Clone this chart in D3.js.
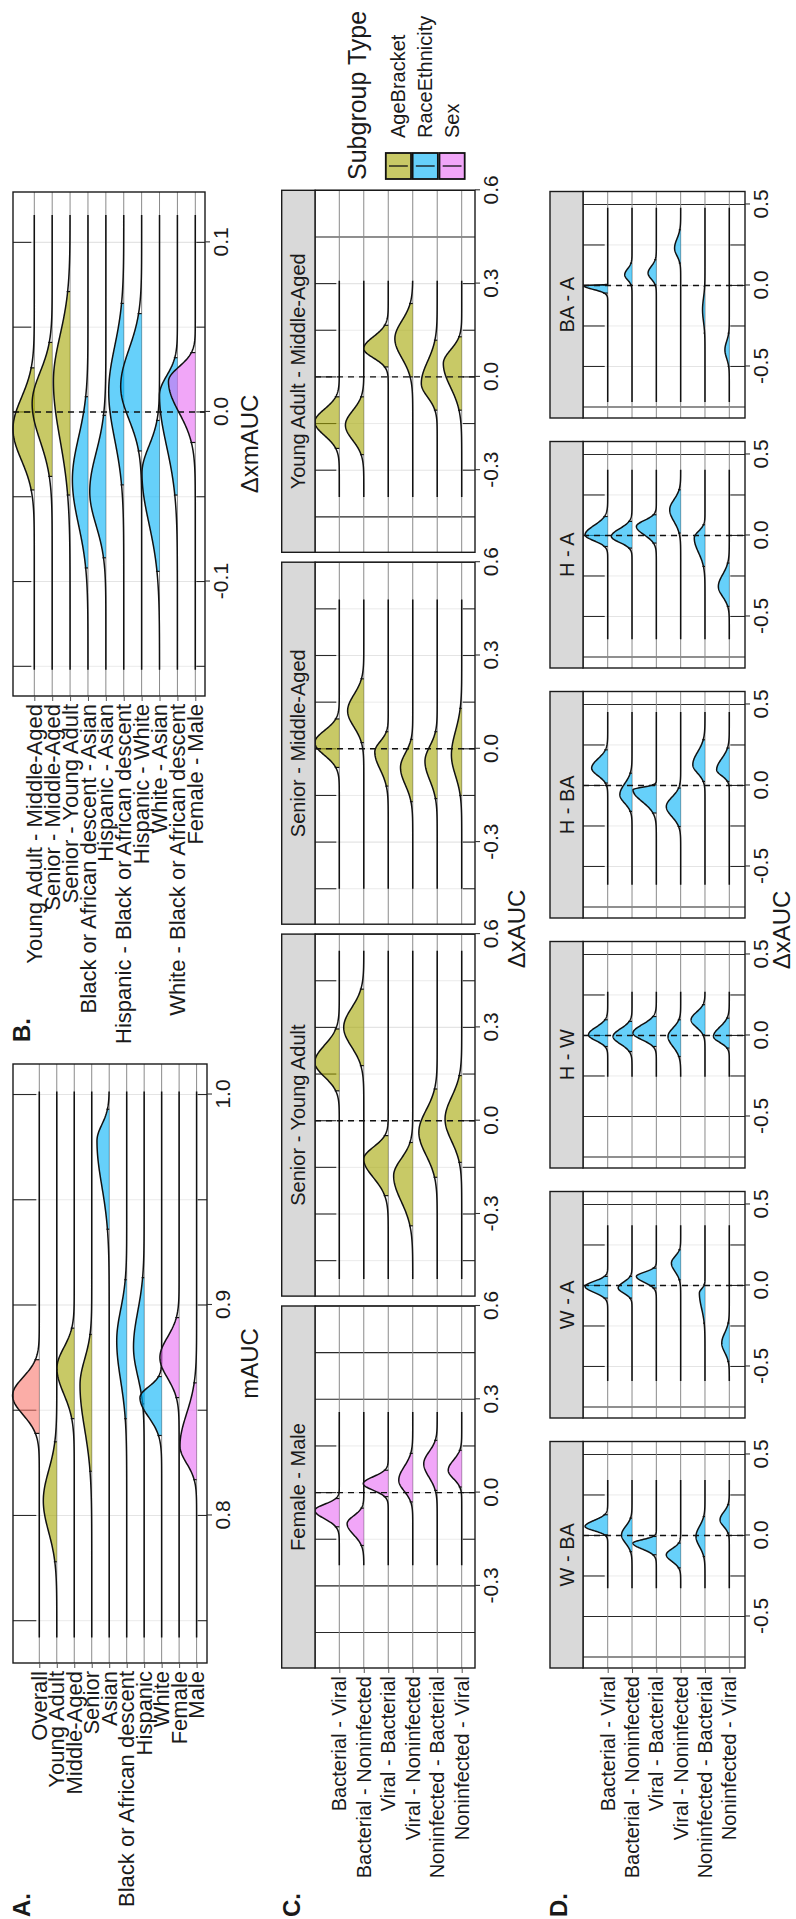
<!DOCTYPE html>
<html>
<head>
<meta charset="utf-8">
<script src="https://cdn.jsdelivr.net/npm/d3@7"></script>
<style>
  html, body { margin: 0; padding: 0; background: #fff; }
  svg text { font-family: "Liberation Sans", Arial, Helvetica, sans-serif; fill: #1a1a1a; }
</style>
</head>
<body>
<svg id="fig" width="796" height="1919"></svg>
<script>
// ---- data ----
const typeColor = { Overall: '#F8766D', AgeBracket: '#A3A500', RaceEthnicity: '#00B0F6', Sex: '#E76BF3' };
const legendTypes = ['AgeBracket', 'RaceEthnicity', 'Sex'];

// A. mAUC per subgroup
const rowsA = ['Overall', 'Young Adult', 'Middle-Aged', 'Senior', 'Asian', 'Black or African descent', 'Hispanic', 'White', 'Female', 'Male'];
const typeA = ['Overall', 'AgeBracket', 'AgeBracket', 'AgeBracket', 'RaceEthnicity', 'RaceEthnicity', 'RaceEthnicity', 'RaceEthnicity', 'Sex', 'Sex'];
const modeA = [0.857, 0.807, 0.870, 0.862, 0.978, 0.883, 0.880, 0.856, 0.875, 0.833];
const loA = [0.839, 0.778, 0.846, 0.821, 0.936, 0.846, 0.853, 0.838, 0.856, 0.817];
const hiA = [0.874, 0.835, 0.889, 0.886, 0.993, 0.912, 0.913, 0.866, 0.894, 0.863];
const htA = [1.53, 0.77, 0.99, 0.67, 0.70, 0.57, 0.61, 1.24, 1.10, 0.95];
const extentA = [0.742, 1.0014];
const majorA = [0.8, 0.9, 1.0];
const minorA = [0.75, 0.85, 0.95];

// B. delta mAUC per pair of subgroups
const rowsB = ['Young Adult - Middle-Aged', 'Senior - Middle-Aged', 'Senior - Young Adult', 'Black or African descent - Asian', 'Hispanic - Asian', 'Hispanic - Black or African descent', 'Hispanic - White', 'White - Asian', 'White - Black or African descent', 'Female - Male'];
const typeB = ['AgeBracket', 'AgeBracket', 'AgeBracket', 'RaceEthnicity', 'RaceEthnicity', 'RaceEthnicity', 'RaceEthnicity', 'RaceEthnicity', 'RaceEthnicity', 'Sex'];
const modeB = [-0.010, 0.005, 0.018, -0.040, -0.047, 0.012, 0.015, -0.036, 0.010, 0.018];
const loB = [-0.046, -0.038, -0.049, -0.092, -0.086, -0.043, -0.023, -0.094, -0.049, -0.018];
const hiB = [0.026, 0.041, 0.071, 0.009, -0.002, 0.064, 0.058, -0.005, 0.032, 0.035];
const htB = [1.19, 1.12, 0.93, 0.87, 0.90, 0.84, 1.17, 0.98, 1.00, 1.50];
const extentB = [-0.152, 0.117];
const majorB = [-0.1, 0.0, 0.1];
const minorB = [-0.15, -0.05, 0.05];

// C. and D. delta xAUC per class pair
const rowsCD = ['Bacterial - Viral', 'Bacterial - Noninfected', 'Viral - Bacterial', 'Viral - Noninfected', 'Noninfected - Bacterial', 'Noninfected - Viral'];

const facetsC = ['Female - Male', 'Senior - Young Adult', 'Senior - Middle-Aged', 'Young Adult - Middle-Aged'];
const typeC = ['Sex', 'AgeBracket', 'AgeBracket', 'AgeBracket'];
const modeC = [
  [-0.057, -0.100, 0.029, 0.040, 0.093, 0.072],
  [0.188, 0.300, -0.123, -0.177, -0.037, 0.005],
  [0.020, 0.122, -0.010, -0.060, -0.040, -0.020],
  [-0.145, -0.155, 0.091, 0.123, -0.021, 0.043]
];
const loC = [
  [-0.110, -0.170, -0.013, -0.030, 0.007, 0.018],
  [0.096, 0.177, -0.241, -0.338, -0.182, -0.134],
  [-0.060, 0.020, -0.120, -0.170, -0.160, -0.150],
  [-0.230, -0.250, 0.032, 0.000, -0.107, -0.107]
];
const hiC = [
  [-0.019, -0.050, 0.072, 0.126, 0.168, 0.136],
  [0.295, 0.423, -0.048, -0.070, 0.102, 0.145],
  [0.096, 0.225, 0.055, 0.030, 0.055, 0.130],
  [-0.064, -0.064, 0.166, 0.236, 0.118, 0.129]
];
const htC = [
  [1.00, 0.68, 1.02, 0.57, 0.55, 0.55],
  [1.00, 0.82, 1.00, 0.78, 0.75, 0.68],
  [1.00, 0.66, 0.55, 0.50, 0.50, 0.42],
  [1.00, 0.75, 1.00, 0.73, 0.65, 0.75]
];
const extentC = [[-0.234, 0.259], [-0.509, 0.55], [-0.45, 0.48], [-0.386, 0.311]];
const majorC = [-0.3, 0.0, 0.3, 0.6];
const minorC = [-0.45, -0.15, 0.15, 0.45];

const facetsD = ['W - BA', 'W - A', 'H - W', 'H - BA', 'H - A', 'BA - A'];
const modeD = [
  [0.056, 0.004, -0.047, -0.119, -0.006, 0.097],
  [-0.006, -0.015, 0.056, 0.138, -0.047, -0.356],
  [0.004, -0.006, 0.015, -0.006, 0.097, -0.006],
  [0.107, -0.057, -0.027, -0.130, 0.128, 0.097],
  [0.004, -0.006, 0.056, 0.159, -0.016, -0.315],
  [0.000, 0.066, 0.076, 0.230, -0.150, -0.397]
];
const loD = [
  [0.004, -0.100, -0.119, -0.200, -0.130, 0.015],
  [-0.078, -0.078, -0.016, 0.035, -0.232, -0.469],
  [-0.068, -0.099, -0.068, -0.130, 0.004, -0.078],
  [0.015, -0.160, -0.170, -0.253, 0.025, 0.025],
  [-0.068, -0.078, -0.047, 0.015, -0.191, -0.438],
  [-0.047, 0.004, 0.004, 0.138, -0.294, -0.500]
];
const hiD = [
  [0.128, 0.107, -0.006, -0.047, 0.117, 0.190],
  [0.056, 0.056, 0.107, 0.220, 0.004, -0.232],
  [0.097, 0.087, 0.117, 0.097, 0.190, 0.107],
  [0.220, 0.076, 0.004, -0.016, 0.282, 0.231],
  [0.117, 0.087, 0.128, 0.282, 0.066, -0.170],
  [0.004, 0.138, 0.159, 0.344, -0.006, -0.294]
];
const htD = [
  [0.93, 0.43, 0.96, 0.59, 0.37, 0.38],
  [0.93, 0.57, 0.82, 0.38, 0.23, 0.31],
  [0.79, 0.78, 0.96, 0.52, 0.57, 0.65],
  [0.66, 0.50, 0.96, 0.59, 0.50, 0.52],
  [0.93, 0.85, 0.82, 0.45, 0.44, 0.45],
  [1.00, 0.30, 0.34, 0.25, 0.10, 0.18]
];
const extentD = [[-0.325, 0.344], [-0.59, 0.375], [-0.255, 0.27], [-0.613, 0.457], [-0.64, 0.405], [-0.72, 0.48]];
const majorD = [-0.5, 0.0, 0.5];
const minorD = [-0.75, -0.25, 0.25];

// ---- drawing ----
const FONT = '"Liberation Sans", Arial, Helvetica, sans-serif';
const fmt = d3.formatLocale({ decimal: '.', thousands: ',', grouping: [3], currency: ['', ''], minus: '-' }).format('.1f');

// the figure is laid out landscape (1919 x 796) and turned a quarter to the left
const root = d3.select('#fig').append('g').attr('transform', 'translate(0,1919) rotate(-90)');

// split normal shape through mode, with 2.5% / 97.5% points at lo / hi
function ridgeShape(m, lo, hi, h) {
  let sl = Math.max((m - lo) / 1.96, 0.0015);
  let sr = Math.max((hi - m) / 1.96, 0.0015);
  return (x) => {
    let s = x < m ? sl : sr;
    let z = (x - m) / s;
    return h * Math.exp(-0.5 * z * z);
  };
}

function drawPanel(p) {
  let g = root.append('g');
  let x = p.x, y = p.y, step = y.step();
  let first = y(p.rows[0]);
  let last = y(p.rows[p.rows.length - 1]);

  g.append('rect')
    .attr('x', p.u0).attr('y', p.v0)
    .attr('width', p.u1 - p.u0).attr('height', p.v1 - p.v0)
    .attr('fill', '#fff');

  // x grid
  let grid = p.minor.concat(p.major);
  g.selectAll(null).data(grid).join('line')
    .attr('x1', (d) => x(d)).attr('x2', (d) => x(d))
    .attr('y1', p.v0).attr('y2', p.v1)
    .attr('stroke', '#e4e4e4')
    .attr('stroke-width', (d) => (p.major.includes(d) ? 1.1 : 0.8));

  // darker pieces of the grid outside the ridges
  let segs = [];
  grid.forEach((d) => {
    if (d < p.extent[0] || d > p.extent[1]) segs.push([d, p.v0, p.v1]);
    else {
      segs.push([d, p.v0, first - 3]);
      segs.push([d, last + 1, p.v1]);
    }
  });
  g.selectAll(null).data(segs).join('line')
    .attr('x1', (d) => x(d[0])).attr('x2', (d) => x(d[0]))
    .attr('y1', (d) => d[1]).attr('y2', (d) => d[2])
    .attr('stroke', '#2a2a2a').attr('stroke-width', 1.1);

  // y grid at each baseline
  g.selectAll(null).data(p.rows).join('line')
    .attr('x1', p.u0).attr('x2', p.u1)
    .attr('y1', (d) => y(d)).attr('y2', (d) => y(d))
    .attr('stroke', '#8a8a8a').attr('stroke-width', 1);

  // ridges, top row first
  let n = 320;
  p.rows.forEach((r, i) => {
    let base = y(r);
    let f = ridgeShape(p.mode[i], p.lo[i], p.hi[i], p.ht[i] * step);
    let xs = d3.range(n + 1).map((k) => p.extent[0] + ((p.extent[1] - p.extent[0]) * k) / n);
    xs.push(p.mode[i], p.lo[i], p.hi[i]);
    xs = xs.filter((v) => v >= p.extent[0] && v <= p.extent[1]).sort((a, b) => a - b);
    let pts = xs.map((v) => ({ x: v, h: f(v) }));
    let inner = pts.filter((d) => d.x >= p.lo[i] && d.x <= p.hi[i]);
    let col = typeColor[p.types[i]];

    g.append('path')
      .datum(inner)
      .attr('d', d3.area().x((d) => x(d.x)).y0(base).y1((d) => base - d.h))
      .attr('fill', col).attr('fill-opacity', 0.6).attr('stroke', 'none');

    g.append('path')
      .datum(pts)
      .attr('d', d3.line().x((d) => x(d.x)).y((d) => base - d.h))
      .attr('fill', 'none').attr('stroke', '#111').attr('stroke-width', 1.5);

    g.selectAll(null).data([p.lo[i], p.hi[i]]).join('line')
      .attr('x1', (d) => x(d)).attr('x2', (d) => x(d))
      .attr('y1', base).attr('y2', (d) => base - f(d) - 1)
      .attr('stroke', '#111').attr('stroke-width', 1.2);
  });

  if (p.zero) {
    g.append('line')
      .attr('x1', x(0)).attr('x2', x(0))
      .attr('y1', p.v0).attr('y2', p.v1)
      .attr('stroke', '#111').attr('stroke-width', 1.4)
      .attr('stroke-dasharray', '6,5');
  }

  g.append('rect')
    .attr('x', p.u0).attr('y', p.v0)
    .attr('width', p.u1 - p.u0).attr('height', p.v1 - p.v0)
    .attr('fill', 'none').attr('stroke', '#1a1a1a').attr('stroke-width', 1.4);

  // x axis
  let ax = g.append('g')
    .attr('transform', `translate(0,${p.v1})`)
    .call(d3.axisBottom(x).tickValues(p.major).tickSize(5).tickPadding(3).tickFormat(fmt));
  ax.select('.domain').remove();
  ax.selectAll('line').attr('stroke', '#333').attr('stroke-width', 1.1);
  ax.selectAll('text').attr('font-size', 21).attr('font-family', FONT).attr('fill', '#1a1a1a');

  // y axis with labels
  if (p.labels) {
    let ay = g.append('g')
      .attr('transform', `translate(${p.u0},0)`)
      .call(d3.axisLeft(y).tickSize(5).tickPadding(3));
    ay.select('.domain').remove();
    ay.selectAll('line').attr('stroke', '#555').attr('stroke-width', 1);
    ay.selectAll('text').attr('font-size', p.labelSize).attr('font-family', FONT).attr('fill', '#1a1a1a');
  }

  // facet strip
  if (p.strip) {
    g.append('rect')
      .attr('x', p.u0).attr('y', p.s0)
      .attr('width', p.u1 - p.u0).attr('height', p.v0 - p.s0)
      .attr('fill', '#d9d9d9').attr('stroke', '#1a1a1a').attr('stroke-width', 1.4);
    g.append('text')
      .attr('x', (p.u0 + p.u1) / 2).attr('y', (p.s0 + p.v0) / 2 + 7)
      .attr('text-anchor', 'middle').attr('font-size', 20)
      .text(p.strip);
  }
}

// A
drawPanel({
  u0: 256, u1: 855, v0: 13, v1: 207,
  x: d3.scaleLinear().domain([0.7299, 1.0145]).range([256, 855]),
  y: d3.scalePoint().domain(rowsA).range([39.3, 196.6]),
  rows: rowsA, types: typeA, mode: modeA, lo: loA, hi: hiA, ht: htA,
  extent: extentA, major: majorA, minor: minorA, zero: false,
  labels: true, labelSize: 22
});

// B
drawPanel({
  u0: 1223, u1: 1727, v0: 13, v1: 205,
  x: d3.scaleLinear().domain([-0.1675, 0.1297]).range([1223, 1727]),
  y: d3.scalePoint().domain(rowsB).range([34.3, 195.3]),
  rows: rowsB, types: typeB, mode: modeB, lo: loB, hi: hiB, ht: htB,
  extent: extentB, major: majorB, minor: minorB, zero: true,
  labels: true, labelSize: 22
});

// C
facetsC.forEach((name, k) => {
  let u0 = 251 + k * 371.9;
  drawPanel({
    u0: u0, u1: u0 + 362, v0: 315, v1: 475, s0: 281.7,
    x: d3.scaleLinear().domain([-0.564, 0.6]).range([u0, u0 + 362]),
    y: d3.scalePoint().domain(rowsCD).range([339.3, 461.7]),
    rows: rowsCD, types: rowsCD.map(() => typeC[k]),
    mode: modeC[k], lo: loC[k], hi: hiC[k], ht: htC[k],
    extent: extentC[k], major: majorC, minor: minorC, zero: true,
    labels: k === 0, labelSize: 20, strip: name
  });
});

// D
facetsD.forEach((name, k) => {
  let u0 = 251 + k * 250;
  drawPanel({
    u0: u0, u1: u0 + 226.5, v0: 583, v1: 745, s0: 550,
    x: d3.scaleLinear().domain([-0.818, 0.58]).range([u0, u0 + 226.5]),
    y: d3.scalePoint().domain(rowsCD).range([607.7, 729.3]),
    rows: rowsCD, types: rowsCD.map(() => 'RaceEthnicity'),
    mode: modeD[k], lo: loD[k], hi: hiD[k], ht: htD[k],
    extent: extentD[k], major: majorD, minor: minorD, zero: true,
    labels: k === 0, labelSize: 20, strip: name
  });
});

// axis titles
let titles = [
  { t: 'mAUC', u: 555.5, v: 258 },
  { t: '\u0394xmAUC', u: 1475, v: 258 },
  { t: '\u0394xAUC', u: 990, v: 525 },
  { t: '\u0394xAUC', u: 989, v: 790 }
];
root.selectAll(null).data(titles).join('text')
  .attr('x', (d) => d.u).attr('y', (d) => d.v)
  .attr('text-anchor', 'middle').attr('font-size', 24)
  .text((d) => d.t);

// panel tags
let tags = [
  { t: 'A.', u: 2, v: 30 },
  { t: 'B.', u: 877, v: 30 },
  { t: 'C.', u: 2, v: 300 },
  { t: 'D.', u: 2, v: 567 }
];
root.selectAll(null).data(tags).join('text')
  .attr('x', (d) => d.u).attr('y', (d) => d.v)
  .attr('font-size', 24).attr('font-weight', 'bold')
  .text((d) => d.t);

// legend
let lg = root.append('g');
lg.append('text')
  .attr('x', 1739).attr('y', 366)
  .attr('font-size', 25)
  .text('Subgroup Type');
let keyY = d3.scaleBand().domain(legendTypes).range([385, 465.5]);
lg.selectAll(null).data(legendTypes).join('rect')
  .attr('x', 1740).attr('y', (d) => keyY(d) + 0.8)
  .attr('width', 26).attr('height', keyY.bandwidth() - 1.6)
  .attr('fill', (d) => typeColor[d]).attr('fill-opacity', 0.6)
  .attr('stroke', '#111').attr('stroke-width', 1.8);
lg.selectAll(null).data(legendTypes).join('line')
  .attr('x1', 1753).attr('x2', 1753)
  .attr('y1', (d) => keyY(d) + 4).attr('y2', (d) => keyY(d) + keyY.bandwidth() - 4)
  .attr('stroke', '#111').attr('stroke-width', 1.3);
lg.selectAll(null).data(legendTypes).join('text')
  .attr('x', 1781).attr('y', (d) => keyY(d) + keyY.bandwidth() / 2 + 7)
  .attr('font-size', 20)
  .text((d) => d);
</script>
</body>
</html>
